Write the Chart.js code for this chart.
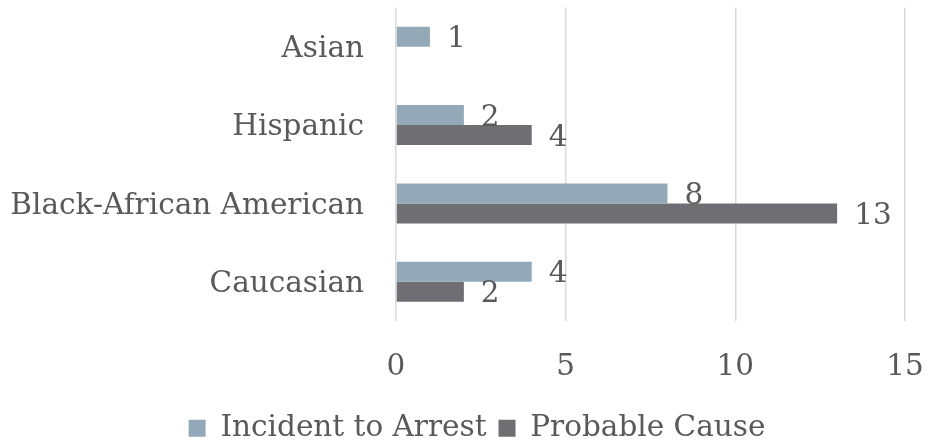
<!DOCTYPE html>
<html>
<head>
<meta charset="utf-8">
<script src="https://cdn.jsdelivr.net/npm/chart.js@4.4.0/dist/chart.umd.min.js"></script>
<style>
  html, body { margin: 0; padding: 0; background: #ffffff; }
  #wrap { width: 928px; height: 444px; position: relative; }
</style>
</head>
<body>
<div id="wrap"><canvas id="c" width="928" height="444"></canvas></div>
<script>
const categories = ["Asian", "Hispanic", "Black-African American", "Caucasian"];
const incidentToArrest = [1, 2, 8, 4];
const probableCause = [0, 4, 13, 2];
const seriesNames = ["Incident to Arrest", "Probable Cause"];
const xTicks = [0, 5, 10, 15];

const FONT = "'DejaVu Serif', 'Liberation Serif', serif";
const TEXT = "#595959";
const FS = 29.5;

const labelPlugin = {
  id: 'barLabels',
  afterDatasetsDraw(chart) {
    const ctx = chart.ctx;
    ctx.save();
    ctx.font = FS + "px " + FONT;
    ctx.fillStyle = TEXT;
    ctx.textAlign = 'left';
    ctx.textBaseline = 'middle';
    chart.data.datasets.forEach((ds, di) => {
      const meta = chart.getDatasetMeta(di);
      meta.data.forEach((el, i) => {
        const v = ds.data[i];
        if (!v) return;
        ctx.fillText(String(v), el.x + 17, el.y + 3);
      });
    });
    ctx.restore();
  }
};

// move the legend block to sit like the original (slightly right of centre, lower)
const legendShift = {
  id: 'legendShift',
  afterLayout(chart) {
    const L = chart.legend;
    if (!L) return;
    const dx = 24.5, dy = 9;
    L.left += dx; L.right += dx; L.top += dy; L.bottom += dy;
  }
};

new Chart(document.getElementById('c'), {
  type: 'bar',
  data: {
    labels: categories,
    datasets: [
      { label: seriesNames[0], data: incidentToArrest, backgroundColor: '#93A9B8',
        categoryPercentage: 0.51, barPercentage: 1.0 },
      { label: seriesNames[1], data: probableCause, backgroundColor: '#6F6E73',
        categoryPercentage: 0.51, barPercentage: 1.0 }
    ]
  },
  options: {
    indexAxis: 'y',
    responsive: false,
    animation: false,
    layout: { padding: { top: 7.5, right: 23, left: 0, bottom: 0 } },
    scales: {
      x: {
        min: 0, max: 15,
        afterBuildTicks(axis) { axis.ticks = xTicks.map(v => ({ value: v })); },
        afterFit(axis) { axis.height = 71.5; axis.paddingLeft = 0; axis.paddingRight = 0; },
        grid: { color: '#D9D9D9', lineWidth: 1.5, drawTicks: false },
        border: { display: false },
        ticks: { font: { family: FONT, size: FS }, color: TEXT, padding: 29 }
      },
      y: {
        afterFit(axis) { axis.width = 396; axis.paddingTop = 0; axis.paddingBottom = 0; },
        grid: { display: false, drawTicks: false },
        border: { display: false },
        ticks: { font: { family: FONT, size: FS }, color: TEXT, padding: 32, labelOffset: 2.5 }
      }
    },
    plugins: {
      legend: {
        position: 'bottom',
        labels: { font: { family: FONT, size: FS }, color: TEXT, boxWidth: 17, boxHeight: 17, padding: 12 }
      },
      tooltip: { enabled: false }
    }
  },
  plugins: [labelPlugin, legendShift]
});
</script>
</body>
</html>
